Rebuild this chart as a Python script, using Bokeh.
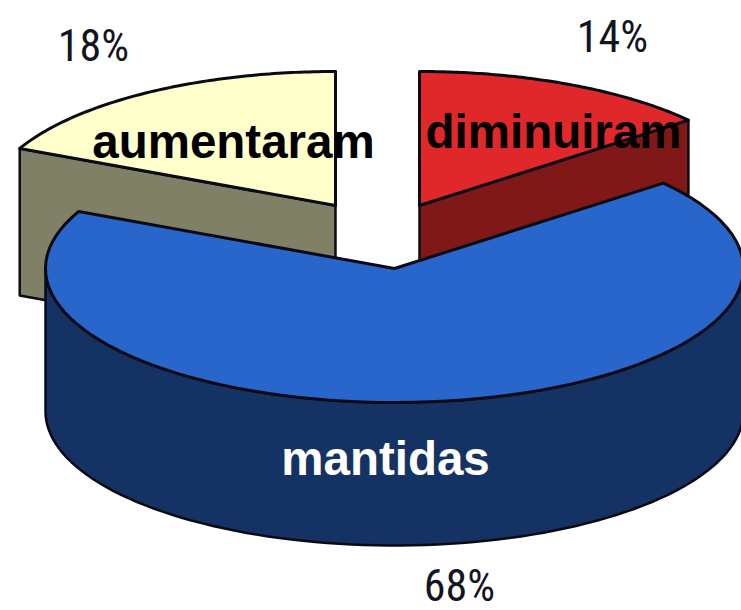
import numpy as np
from bokeh.plotting import figure
from bokeh.models import Range1d
from bokeh.core.properties import value
from bokeh.embed import file_html
from bokeh.resources import INLINE

# data, clockwise from 12 o'clock
categories = ["diminuiram", "mantidas", "aumentaram"]
shares = [14, 68, 18]
share_labels = ["14%", "68%", "18%"]

top_colors = ["#E0282B", "#2966CC", "#FFFFCC"]
side_colors = ["#801818", "#143264", "#808066"]
name_colors = ["#000000", "#FFFFFF", "#000000"]

# exploded slice centres in picture pixels
centers = [(419, 205), (394, 268), (335, 205)]
depths = [143, 143, 147]
RX, RY = 349, 134
LINE = "#0A0A14"

W, H = 741, 610
p = figure(width=W, height=H, output_backend="svg", toolbar_location=None,
           x_range=Range1d(0, W), y_range=Range1d(H, 0),
           min_border=0, outline_line_color=None, background_fill_color="white")
p.xaxis.visible = False
p.yaxis.visible = False
p.grid.visible = False

bounds = 90 - np.cumsum([0] + shares) * 3.6


def rim(c, a0, a1, n=90):
    t = np.radians(np.linspace(a0, a1, n))
    return c[0] + RX * np.cos(t), c[1] - RY * np.sin(t)


def wall(xs, ys, color, depth):
    p.patch(list(xs) + list(xs[::-1]), list(ys) + list((ys + depth)[::-1]),
            fill_color=color, line_color=LINE, line_width=2.5, line_join="round")


def top(c, a0, a1, color):
    x, y = rim(c, a0, a1)
    p.patch([c[0]] + list(x), [c[1]] + list(y),
            fill_color=color, line_color=LINE, line_width=3, line_join="round")


# back slices first: cut faces, then tops
for i in (2, 0):
    a0, a1 = bounds[i], bounds[i + 1]
    c = centers[i]
    edge = a1 if i == 0 else a0
    x, y = rim(c, edge, edge, 2)
    xs = np.array([c[0], x[0]])
    ys = np.array([c[1], y[0]], dtype=float)
    wall(xs, ys, side_colors[i], depths[i])
    top(c, a0, a1, top_colors[i])

# large front slice: outer wall, then top
c = centers[1]
x, y = rim(c, -180, 0)
wall(x, y, side_colors[1], depths[1])
top(c, bounds[1], bounds[2], top_colors[1])

name_pos = [(553, 131), (385, 458), (233, 141)]
pct_pos = [(612, 36), (459, 585), (93, 45)]

p.text([q[0] for q in name_pos], [q[1] for q in name_pos], text=categories,
       text_color=name_colors, text_font=value("Liberation Sans"), text_font_style="bold",
       text_font_size="47.5px", text_align="center", text_baseline="middle")
p.text([q[0] for q in pct_pos], [q[1] for q in pct_pos], text=share_labels,
       text_color="#14141E", text_font=value("Roboto Condensed"),
       text_font_size="44px", text_align="center", text_baseline="middle")

open("out.html", "w").write(file_html(p, INLINE))
